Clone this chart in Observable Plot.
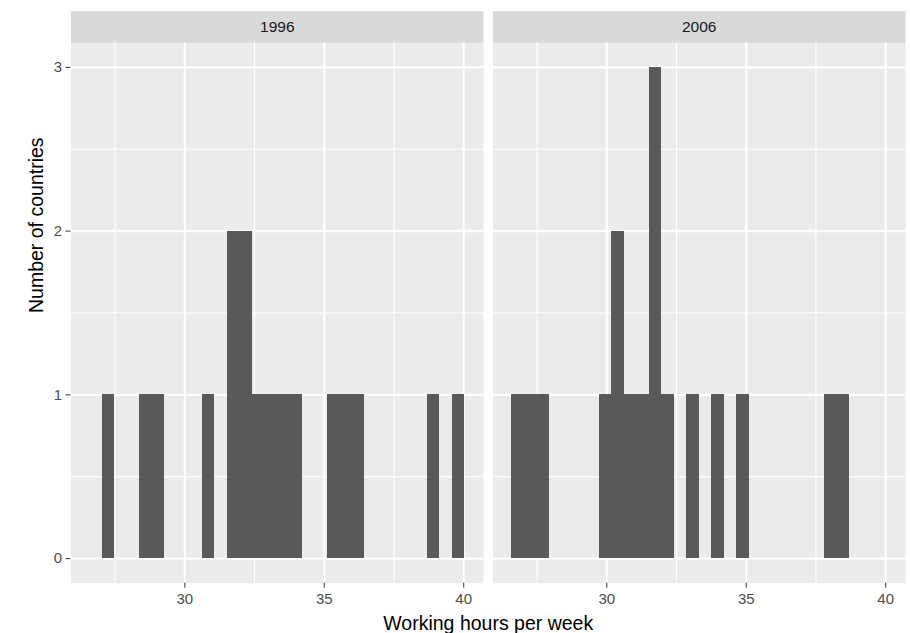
<!DOCTYPE html>
<html>
<head>
<meta charset="utf-8">
<script src="https://cdn.jsdelivr.net/npm/d3@7"></script>
<script src="https://cdn.jsdelivr.net/npm/@observablehq/plot@0.6"></script>
<style>
  html, body { margin: 0; padding: 0; background: #ffffff; }
  #chart svg { display: block; }
</style>
</head>
<body>
<div id="chart"></div>
<script>
// ---- data ----
const years = ["1996", "2006"];
const binStart = 26.59;      // left edge of first histogram bin (hours)
const binWidth = 0.4483;     // histogram bin width (hours)
const count1996 = [0,1,0,0,1,1,0,0,0,1,0,2,2,1,1,1,1,0,0,1,1,1,0,0,0,0,0,1,0,1];
const count2006 = [1,1,1,0,0,0,0,1,2,1,1,3,1,0,1,0,1,0,1,0,0,0,0,0,0,1,1,0,0,0];
const xTicks = [30, 35, 40];
const xMinorTicks = [27.5, 32.5, 37.5];
const yTicks = [0, 1, 2, 3];
const yMinorTicks = [0.5, 1.5, 2.5];
const xLabel = "Working hours per week";
const yLabel = "Number of countries";

// ---- build table ----
const countsByYear = {"1996": count1996, "2006": count2006};
const bins = [];
for (const yr of years) {
  countsByYear[yr].forEach((c, i) => {
    if (c > 0) bins.push({year: yr, x1: binStart + i * binWidth, x2: binStart + (i + 1) * binWidth, count: c});
  });
}
const nBins = count1996.length;
const xLo = binStart, xHi = binStart + nBins * binWidth;
const xPad = 0.05 * (xHi - xLo);
const yMax = d3.max([...count1996, ...count2006]);
const yPad = 0.05 * yMax;

// ---- layout ----
const W = 910, H = 633;
const mL = 70.5, mR = 5, mT = 42.3, mB = 50.3;
const stripH = 31.6;
const panelH = H - mT - mB;
const gap = 9.4;
const bandW = (W - mL - mR - gap) / 2;
const pInner = gap / (bandW + gap);

const chart = Plot.plot({
  width: W,
  height: H,
  marginLeft: mL,
  marginRight: mR,
  marginTop: mT,
  marginBottom: mB,
  style: {fontFamily: "'Liberation Sans', Arial, Helvetica, sans-serif", background: "#ffffff"},
  fx: {domain: years, paddingInner: pInner, paddingOuter: 0, round: false, axis: null, label: null},
  x: {domain: [xLo - xPad, xHi + xPad]},
  y: {domain: [-yPad, yMax + yPad]},
  marks: [
    Plot.frame({fill: "#EBEBEB", stroke: "none"}),
    Plot.frame({fill: "#D9D9D9", stroke: "none", insetTop: -stripH, insetBottom: panelH}),
    Plot.ruleX(xMinorTicks, {stroke: "white", strokeWidth: 1.1}),
    Plot.ruleY(yMinorTicks, {stroke: "white", strokeWidth: 1.1}),
    Plot.ruleX(xTicks, {stroke: "white", strokeWidth: 2.1}),
    Plot.ruleY(yTicks, {stroke: "white", strokeWidth: 2.1}),
    Plot.rectY(bins, {fx: "year", x1: "x1", x2: "x2", y: "count", fill: "#595959", insetLeft: 0, insetRight: 0, shapeRendering: "crispEdges"}),
    Plot.axisX({ticks: xTicks, tickFormat: d => String(d), tickSize: 5, tickPadding: 5.6, fontSize: 15, color: "#4D4D4D", stroke: "#333333", label: null}),
    Plot.axisY({ticks: yTicks, tickFormat: d => String(d), tickSize: 5, tickPadding: 3.8, fontSize: 15, color: "#4D4D4D", stroke: "#333333", label: null}),
    Plot.text(years, {fx: d => d, text: d => d, frameAnchor: "top", dy: -stripH / 2, lineAnchor: "middle", fontSize: 15.5, fill: "#1A1A1A"}),
    Plot.text([yLabel], {fx: () => years[0], text: d => d, frameAnchor: "left", dx: -34.5, rotate: -90, lineAnchor: "middle", fontSize: 19.5, fill: "#000000"}),
    Plot.text([xLabel], {fx: () => years[0], text: d => d, frameAnchor: "bottom", dx: (bandW + gap) / 2, dy: 46.3, lineAnchor: "bottom", fontSize: 19.5, fill: "#000000"})
  ]
});
document.getElementById("chart").appendChild(chart);
</script>
</body>
</html>
